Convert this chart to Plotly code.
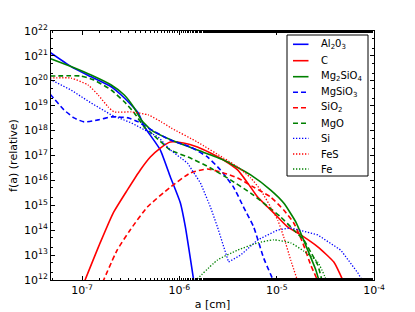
import numpy as np
import plotly.graph_objects as go

# log10(a [cm]) and log10(f(a))
al2o3_loga = [-7.33, -7.114, -6.908, -6.701, -6.598, -6.495, -6.423, -6.361, -6.289, -6.196, -6.093, -5.990, -5.939, -5.85]
al2o3_logf = [21.14, 20.57, 20.16, 19.76, 19.43, 19.03, 18.71, 18.16, 17.76, 17.22, 16.14, 15.09, 14.13, 11.9]

c_loga = [-6.98, -6.815, -6.681, -6.536, -6.402, -6.299, -6.196, -6.093, -5.959, -5.815, -5.681, -5.547, -5.402, -5.299, -5.196, -5.093, -4.990, -4.887, -4.753, -4.578, -4.413, -4.31]
c_logf = [11.9, 13.49, 14.69, 15.61, 16.42, 16.94, 17.30, 17.54, 17.50, 17.34, 17.10, 16.82, 16.42, 15.90, 15.33, 14.93, 14.53, 14.13, 13.81, 13.33, 12.72, 11.9]

mg2sio4_loga = [-7.33, -7.114, -6.908, -6.701, -6.567, -6.464, -6.392, -6.289, -6.083, -5.815, -5.547, -5.268, -5.062, -4.928, -4.804, -4.681, -4.598, -4.56]
mg2sio4_logf = [20.90, 20.57, 20.23, 19.83, 19.43, 18.91, 18.43, 18.02, 17.62, 17.22, 16.82, 16.22, 15.61, 15.09, 14.33, 13.20, 12.40, 11.9]

mgsio3_loga = [-7.33, -7.186, -7.083, -6.980, -6.835, -6.701, -6.629, -6.526, -6.423, -6.320, -6.093, -5.887, -5.712, -5.578, -5.444, -5.341, -5.237, -5.134, -5.025]
mgsio3_logf = [19.47, 18.83, 18.51, 18.35, 18.43, 18.55, 18.55, 18.51, 18.35, 18.10, 17.62, 17.34, 16.94, 16.42, 15.73, 14.93, 14.13, 12.88, 11.9]

sio2_loga = [-6.79, -6.640, -6.506, -6.330, -6.093, -5.887, -5.712, -5.547, -5.402, -5.237, -5.062, -4.928, -4.825, -4.732, -4.650, -4.57]
sio2_logf = [11.9, 13.20, 14.01, 14.93, 15.73, 16.30, 16.46, 16.30, 16.10, 15.73, 15.33, 14.81, 14.29, 13.49, 12.60, 11.9]

mgo_loga = [-7.33, -7.011, -6.877, -6.701, -6.567, -6.464, -6.361, -6.289, -6.093, -5.887, -5.681, -5.475, -5.268, -5.134, -4.959, -4.825, -4.722, -4.650, -4.578, -4.53]
mgo_logf = [20.19, 20.19, 20.03, 19.63, 19.16, 18.71, 18.14, 17.90, 17.22, 16.90, 16.50, 16.02, 15.49, 15.09, 14.53, 14.01, 13.61, 13.12, 12.60, 11.9]

si_loga = [-7.33, -7.114, -6.908, -6.701, -6.495, -6.361, -6.217, -6.093, -5.918, -5.784, -5.681, -5.609, -5.547, -5.495, -5.371, -5.196, -4.990, -4.856, -4.578, -4.341, -4.165, -4.11]
si_logf = [20.06, 19.63, 19.11, 18.63, 18.31, 18.02, 17.74, 17.22, 16.70, 15.90, 14.93, 14.13, 13.33, 12.72, 13.00, 13.61, 14.01, 14.09, 13.81, 13.20, 12.28, 11.9]

fes_loga = [-7.33, -7.114, -6.939, -6.835, -6.732, -6.670, -6.495, -6.320, -6.186, -6.083, -5.815, -5.547, -5.402, -5.268, -5.165, -5.062, -4.990, -4.928, -4.856, -4.78]
fes_logf = [20.11, 20.11, 19.83, 19.43, 18.95, 18.75, 18.75, 18.63, 18.35, 18.10, 17.54, 16.90, 16.54, 16.10, 15.61, 14.93, 14.41, 13.73, 12.80, 11.9]

fe_loga = [-5.84, -5.609, -5.402, -5.196, -5.031, -4.856, -4.722, -4.578, -4.48]
fe_logf = [11.95, 12.80, 13.20, 13.49, 13.61, 13.49, 13.16, 12.72, 11.9]

x_tickvals = [1e-7, 1e-6, 1e-5, 1e-4]
x_ticktext = ["10<sup>-7</sup>", "10<sup>-6</sup>", "10<sup>-5</sup>", "10<sup>-4</sup>"]
y_exps = list(range(12, 23))
y_tickvals = [10.0 ** e for e in y_exps]
y_ticktext = ["10<sup>%d</sup>" % e for e in y_exps]

series = [
    ("Al<sub>2</sub>0<sub>3</sub>", al2o3_loga, al2o3_logf, "#0000ff", "solid"),
    ("C", c_loga, c_logf, "#ff0000", "solid"),
    ("Mg<sub>2</sub>SiO<sub>4</sub>", mg2sio4_loga, mg2sio4_logf, "#008000", "solid"),
    ("MgSiO<sub>3</sub>", mgsio3_loga, mgsio3_logf, "#0000ff", "dash"),
    ("SiO<sub>2</sub>", sio2_loga, sio2_logf, "#ff0000", "dash"),
    ("MgO", mgo_loga, mgo_logf, "#008000", "dash"),
    ("Si", si_loga, si_logf, "#0000ff", "dot"),
    ("FeS", fes_loga, fes_logf, "#ff0000", "dot"),
    ("Fe", fe_loga, fe_logf, "#008000", "dot"),
]

DASH = {"solid": "solid", "dash": "5px,3px", "dot": "1.3px,1.7px"}
WIDTH = {"solid": 1.6, "dash": 1.6, "dot": 1.3}

# plot-area geometry in pixels (used for the hand-drawn legend box)
W, H = 415, 312
ML, MR, MT, MB = 51, 41, 31, 32
PW, PH = W - ML - MR, H - MT - MB

def px(x):
    return (x - ML) / PW

def py(y):
    return 1 - (y - MT) / PH

fig = go.Figure()
for name, la, lf, color, dash in series:
    fig.add_trace(go.Scatter(
        x=10.0 ** np.array(la), y=10.0 ** np.array(lf),
        mode="lines", name=name, showlegend=False, hoverinfo="skip",
        line=dict(color=color, width=WIDTH[dash], dash=DASH[dash],
                  shape="linear" if name == "Si" else "spline", smoothing=0.5),
    ))

# legend box drawn in the plot corner
shapes = [dict(type="rect", xref="paper", yref="paper", x0=px(287), x1=px(368),
               y0=py(176), y1=py(35), line=dict(color="black", width=1), fillcolor="white", layer="above")]
annotations = []
row_y = [44.3, 60.7, 76.7, 92.3, 107.7, 123.3, 138.3, 154, 169]
for (name, la, lf, color, dash), yy in zip(series, row_y):
    shapes.append(dict(type="line", xref="paper", yref="paper", x0=px(293), x1=px(308.5),
                       y0=py(yy), y1=py(yy), layer="above",
                       line=dict(color=color, width=WIDTH[dash], dash=DASH[dash])))
    annotations.append(dict(text=name, xref="paper", yref="paper", x=px(319), y=py(yy),
                            xanchor="left", yanchor="middle", showarrow=False,
                            font=dict(family="DejaVu Sans", size=10, color="black")))

font = dict(family="DejaVu Sans", size=11, color="black")
axis_common = dict(
    type="log", showgrid=False, zeroline=False, showline=True, linecolor="black",
    linewidth=1, mirror="allticks", ticks="inside", ticklen=4, tickcolor="black",
    tickfont=font, automargin=False,
    minor=dict(ticks="inside", ticklen=2, tickcolor="black", showgrid=False),
)
fig.update_xaxes(**axis_common, range=[-7.32, -4], tickvals=x_tickvals, ticktext=x_ticktext,
                 title=dict(text="a [cm]", font=font, standoff=4))
fig.update_yaxes(**axis_common, range=[12, 22], tickvals=y_tickvals, ticktext=y_ticktext,
                 title=dict(text="f(a) (relative)", font=font, standoff=4))

fig.update_layout(
    width=W, height=H,
    margin=dict(l=ML, r=MR, t=MT, b=MB),
    paper_bgcolor="white", plot_bgcolor="white",
    font=font, showlegend=False, hovermode=False,
    shapes=shapes, annotations=annotations,
)

fig.write_html("out.html", config={"displayModeBar": False},
               post_script="document.body.style.margin='0';")
